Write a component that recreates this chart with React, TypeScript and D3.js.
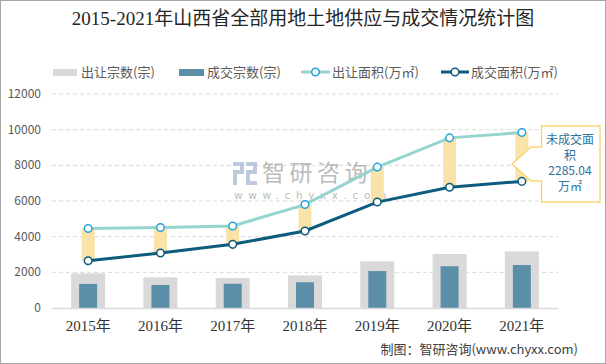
import React, { useEffect, useRef } from 'react';
import * as d3 from 'd3';

const years = ['2015年', '2016年', '2017年', '2018年', '2019年', '2020年', '2021年'];
const supplyCount = [1940, 1720, 1680, 1830, 2620, 3030, 3180];
const dealCount = [1350, 1290, 1360, 1440, 2070, 2340, 2410];
const supplyArea = [4460, 4510, 4600, 5800, 7900, 9540, 9840];
const dealArea = [2650, 3080, 3570, 4320, 5940, 6770, 7100];
const yTicks = [0, 2000, 4000, 6000, 8000, 10000, 12000];

const title = '2015-2021年山西省全部用地土地供应与成交情况统计图';
const legendItems = ['出让宗数(宗)', '成交宗数(宗)', '出让面积(万㎡)', '成交面积(万㎡)'];
const calloutLines = ['未成交面', '积', '2285.04', '万㎡'];

const W = 606;
const H = 364;
const sans = '"Noto Sans CJK SC", "Noto Sans", sans-serif';
const serif = '"Liberation Serif", "Noto Sans CJK SC", serif';

function App() {
  const ref = useRef<SVGSVGElement>(null);

  useEffect(() => {
    const svg = d3.select(ref.current);
    svg.selectAll('*').remove();

    svg.append('rect')
      .attr('x', 0.5).attr('y', 0.5)
      .attr('width', W - 1).attr('height', H - 1)
      .attr('fill', '#fff')
      .attr('stroke', '#a6a6a6');

    const left = 52, right = 558, top = 94, bottom = 308;

    const x = d3.scaleBand().domain(years).range([left, right]);
    const y = d3.scaleLinear().domain([0, 12000]).range([bottom, top]);
    const cx = (d: string) => (x(d) as number) + x.bandwidth() / 2;

    // title
    svg.append('text')
      .attr('x', W / 2).attr('y', 25)
      .attr('text-anchor', 'middle')
      .style('font-family', serif)
      .style('font-size', '19px')
      .attr('fill', '#262626')
      .text(title);

    // legend
    const lg = svg.append('g').style('font-family', sans).style('font-size', '13px');
    const ly = 72;
    lg.append('rect').attr('x', 53).attr('y', ly - 3).attr('width', 24).attr('height', 7).attr('fill', '#d9d9d9');
    lg.append('text').attr('x', 81).attr('y', ly + 4.5).attr('fill', '#595959').text(legendItems[0]);
    lg.append('rect').attr('x', 179).attr('y', ly - 3).attr('width', 25).attr('height', 7).attr('fill', '#5b8fa8');
    lg.append('text').attr('x', 207).attr('y', ly + 4.5).attr('fill', '#595959').text(legendItems[1]);
    lg.append('line').attr('x1', 301).attr('x2', 330).attr('y1', ly).attr('y2', ly).attr('stroke', '#96d4cf').attr('stroke-width', 3);
    lg.append('circle').attr('cx', 315.5).attr('cy', ly).attr('r', 3.8).attr('fill', '#fff').attr('stroke', '#27a3d9').attr('stroke-width', 1.5);
    lg.append('text').attr('x', 332).attr('y', ly + 4.5).attr('fill', '#595959').text(legendItems[2]);
    lg.append('line').attr('x1', 441).attr('x2', 469).attr('y1', ly).attr('y2', ly).attr('stroke', '#0d5b7d').attr('stroke-width', 3);
    lg.append('circle').attr('cx', 455).attr('cy', ly).attr('r', 3.8).attr('fill', '#fff').attr('stroke', '#0d5b7d').attr('stroke-width', 1.5);
    lg.append('text').attr('x', 471).attr('y', ly + 4.5).attr('fill', '#595959').text(legendItems[3]);

    // grid
    svg.append('g')
      .selectAll('line')
      .data(yTicks.filter(t => t > 0))
      .join('line')
      .attr('x1', left).attr('x2', right)
      .attr('y1', d => y(d)).attr('y2', d => y(d))
      .attr('stroke', '#d9d9d9')
      .attr('stroke-dasharray', '4,3');

    svg.append('g')
      .selectAll('text')
      .data(yTicks)
      .join('text')
      .attr('x', 41).attr('y', d => y(d) + 4)
      .attr('text-anchor', 'end')
      .style('font-family', sans)
      .style('font-size', '12px')
      .attr('fill', '#595959')
      .text(d => d);

    // watermark
    const wm = svg.append('g').attr('opacity', 0.75);
    const lx = 233, lyy = 162;
    wm.append('rect').attr('x', lx).attr('y', lyy).attr('width', 11).attr('height', 4).attr('fill', '#a9b8d6');
    wm.append('rect').attr('x', lx + 7).attr('y', lyy).attr('width', 4).attr('height', 12).attr('fill', '#a9b8d6');
    wm.append('rect').attr('x', lx).attr('y', lyy + 8).attr('width', 11).attr('height', 4).attr('fill', '#a9b8d6');
    wm.append('rect').attr('x', lx).attr('y', lyy + 8).attr('width', 4).attr('height', 15).attr('fill', '#a9b8d6');
    wm.append('rect').attr('x', lx + 13).attr('y', lyy).attr('width', 11).attr('height', 4).attr('fill', '#a9b8d6');
    wm.append('rect').attr('x', lx + 20).attr('y', lyy).attr('width', 4).attr('height', 12).attr('fill', '#a9b8d6');
    wm.append('rect').attr('x', lx + 13).attr('y', lyy + 8).attr('width', 11).attr('height', 4).attr('fill', '#a9b8d6');
    wm.append('rect').attr('x', lx + 13).attr('y', lyy + 8).attr('width', 4).attr('height', 15).attr('fill', '#a9b8d6');
    wm.append('rect').attr('x', lx + 13).attr('y', lyy + 19).attr('width', 11).attr('height', 4).attr('fill', '#a9b8d6');
    wm.append('text').attr('x', 262).attr('y', 181)
      .style('font-family', sans).style('font-size', '23px')
      .style('letter-spacing', '4.5px')
      .attr('fill', '#a6a6a6').text('智研咨询');
    wm.append('text').attr('x', 234).attr('y', 199)
      .style('font-family', '"DejaVu Sans", sans-serif').style('font-size', '10.5px')
      .style('letter-spacing', '5.6px')
      .attr('fill', '#a6a6a6').text('www.chyxx.com');

    // bars
    const gw = 34, dw = 18;
    svg.append('g')
      .selectAll('rect')
      .data(supplyCount)
      .join('rect')
      .attr('x', (d, i) => cx(years[i]) - gw / 2)
      .attr('y', d => y(d))
      .attr('width', gw)
      .attr('height', d => bottom - y(d))
      .attr('fill', '#d9d9d9');
    svg.append('g')
      .selectAll('rect')
      .data(dealCount)
      .join('rect')
      .attr('x', (d, i) => cx(years[i]) - dw / 2)
      .attr('y', d => y(d))
      .attr('width', dw)
      .attr('height', d => bottom - y(d))
      .attr('fill', '#5b8fa8');

    // axis line
    svg.append('line')
      .attr('x1', left).attr('x2', right)
      .attr('y1', bottom + 0.5).attr('y2', bottom + 0.5)
      .attr('stroke', '#d9d9d9').attr('stroke-width', 1.5);

    svg.append('g')
      .selectAll('text')
      .data(years)
      .join('text')
      .attr('x', d => cx(d)).attr('y', 331)
      .attr('text-anchor', 'middle')
      .style('font-family', serif)
      .style('font-size', '15px')
      .attr('fill', '#333')
      .text(d => d);

    // gap boxes
    svg.append('g')
      .selectAll('rect')
      .data(years)
      .join('rect')
      .attr('x', d => cx(d) - 6.5)
      .attr('y', (d, i) => y(supplyArea[i]))
      .attr('width', 13)
      .attr('height', (d, i) => y(dealArea[i]) - y(supplyArea[i]))
      .attr('fill', '#fae3a9');

    const line = d3.line<number>()
      .x((d, i) => cx(years[i]))
      .y(d => y(d));

    svg.append('path').datum(supplyArea).attr('d', line)
      .attr('fill', 'none').attr('stroke', '#96d4cf').attr('stroke-width', 3);
    svg.append('path').datum(dealArea).attr('d', line)
      .attr('fill', 'none').attr('stroke', '#0d5b7d').attr('stroke-width', 3);

    svg.append('g')
      .selectAll('circle')
      .data(supplyArea)
      .join('circle')
      .attr('cx', (d, i) => cx(years[i])).attr('cy', d => y(d))
      .attr('r', 3.8).attr('fill', '#fff')
      .attr('stroke', '#27a3d9').attr('stroke-width', 1.5);
    svg.append('g')
      .selectAll('circle')
      .data(dealArea)
      .join('circle')
      .attr('cx', (d, i) => cx(years[i])).attr('cy', d => y(d))
      .attr('r', 3.8).attr('fill', '#fff')
      .attr('stroke', '#0d5b7d').attr('stroke-width', 1.5);

    // callout
    svg.append('path')
      .attr('d', 'M541.5,126 L600,126 L600,202 L541.5,202 L541.5,181 L531,181 L512,164 L531,147 L541.5,147 Z')
      .attr('fill', '#fff')
      .attr('stroke', '#fdd26e')
      .attr('stroke-width', 1.3);
    svg.append('g')
      .selectAll('text')
      .data(calloutLines)
      .join('text')
      .attr('x', 570)
      .attr('y', (d, i) => 144 + i * 15.5)
      .attr('text-anchor', 'middle')
      .style('font-family', sans)
      .style('font-size', '12px')
      .attr('fill', '#2b729c')
      .text(d => d);

    // source
    svg.append('text')
      .attr('x', 578).attr('y', 354)
      .attr('text-anchor', 'end')
      .style('font-family', sans)
      .style('font-size', '13px')
      .attr('fill', '#404040')
      .text('制图：智研咨询(www.chyxx.com)');
  }, []);

  return (
    <div style={{ position: 'absolute', left: 0, top: 0 }}>
      <svg ref={ref} width={W} height={H} style={{ display: 'block' }}></svg>
    </div>
  );
}

export default App;
